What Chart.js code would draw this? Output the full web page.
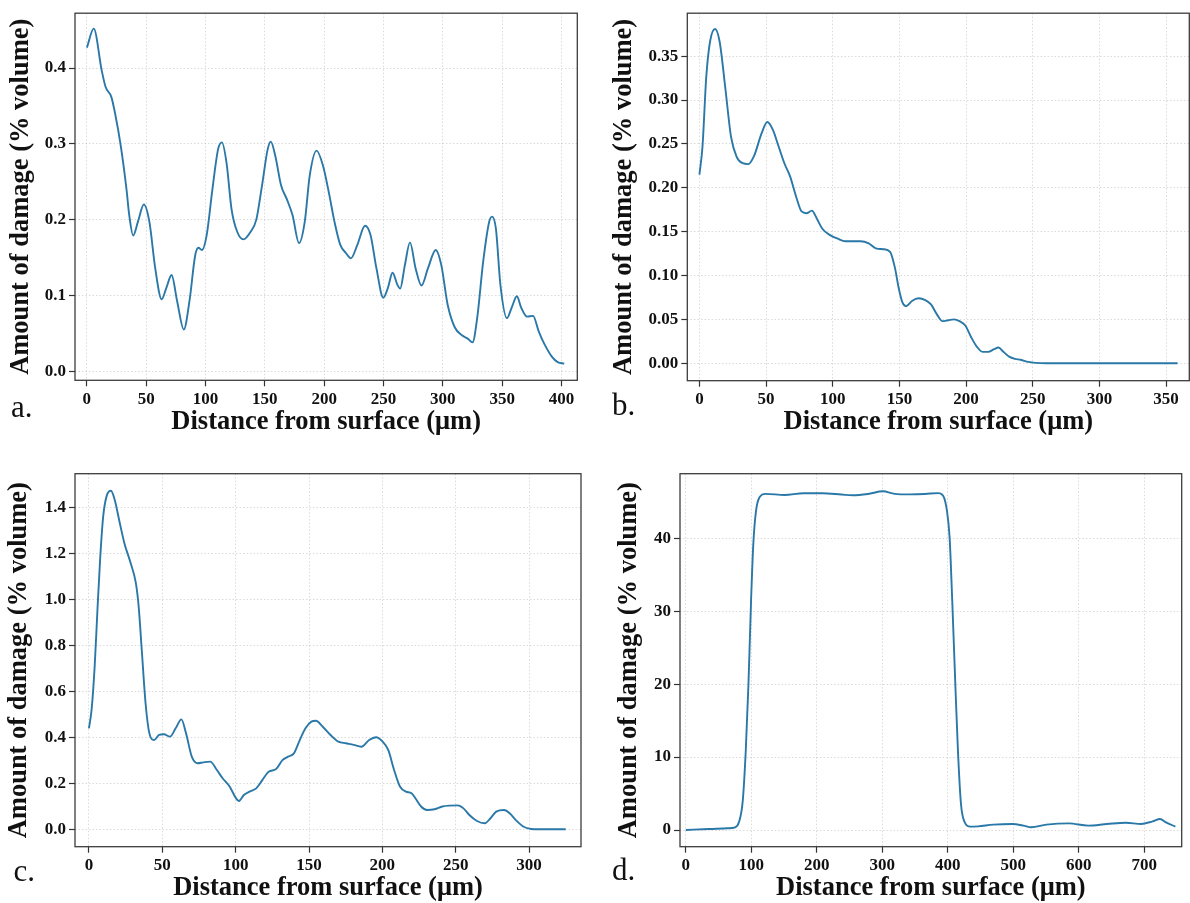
<!DOCTYPE html>
<html>
<head>
<meta charset="utf-8">
<script src="https://cdn.jsdelivr.net/npm/chart.js@4.4.1/dist/chart.umd.min.js"></script>
<style>
  body { margin: 0; background: #fff; }
  #fig { position: relative; width: 1190px; height: 903px; }
  .panel { position: absolute; }
</style>
</head>
<body>
<div id="fig">
  <div class="panel" style="left:0;top:0"><canvas id="chartA" width="595" height="450"></canvas></div>
  <div class="panel" style="left:595px;top:0"><canvas id="chartB" width="595" height="450"></canvas></div>
  <div class="panel" style="left:0;top:450px"><canvas id="chartC" width="595" height="453"></canvas></div>
  <div class="panel" style="left:595px;top:450px"><canvas id="chartD" width="595" height="453"></canvas></div>
</div>
<script>
/* ============================ Data ============================ */
const distA = [0, 5.8, 12.5, 15.8, 20.6, 23.8, 28.6, 33.4, 35.7, 39, 43, 48, 52.7, 57.6, 63, 67, 71.4, 76, 81.7, 86.5,
  91.3, 94, 97, 101, 105.8, 110.6, 113.8, 117.7, 121.9, 126.7, 132, 138, 142.8, 147.6, 152.4, 155, 158.8, 163.7, 168.5, 173.3,
  178.8, 183.6, 187.8, 193.6, 199, 203.9, 208.7, 213.5, 218.3, 222.5, 228, 234.4, 239, 244, 249.8, 253.7, 257.6, 261.7, 264, 268,
  272.3, 277, 282, 287.5, 294, 298.7, 304, 310, 316.4, 321, 325, 329, 334, 339, 341.5, 344.7, 348.5, 354, 358, 362.4,
  366, 371, 376, 380.7, 385.5, 392, 396.8, 402.3];
const damageA = [0.427, 0.452, 0.397, 0.375, 0.362, 0.34, 0.297, 0.24, 0.206, 0.179, 0.197, 0.22, 0.197, 0.136, 0.095, 0.11, 0.127, 0.093, 0.055, 0.093,
  0.153, 0.163, 0.16, 0.18, 0.24, 0.293, 0.302, 0.275, 0.214, 0.184, 0.174, 0.184, 0.2, 0.245, 0.293, 0.303, 0.284, 0.245, 0.227, 0.206,
  0.169, 0.197, 0.258, 0.291, 0.271, 0.236, 0.197, 0.167, 0.156, 0.149, 0.167, 0.192, 0.18, 0.136, 0.097, 0.11, 0.13, 0.114, 0.109, 0.14,
  0.17, 0.136, 0.113, 0.136, 0.16, 0.14, 0.088, 0.058, 0.047, 0.043, 0.038, 0.071, 0.145, 0.197, 0.204, 0.188, 0.114, 0.07, 0.084, 0.099,
  0.084, 0.072, 0.073, 0.053, 0.036, 0.019, 0.012, 0.01];

const distB = [0, 2.3, 5.1, 8, 11.7, 15.1, 19.4, 23.7, 28, 32.3, 36.6, 40.9, 46.6, 50.9, 55.1, 59.4, 63.7, 68, 72.3, 76.6,
  80.3, 84.3, 88, 92.3, 98, 103.7, 109.4, 115, 120.9, 126.6, 132.3, 138, 143, 146.6, 149.4, 152.3, 155, 159.4, 164.3, 169.4,
  173.7, 178, 182.3, 186.6, 190.9, 195, 199.4, 203.7, 208, 212.3, 216.6, 220.9, 224.3, 228, 232.3, 236.6, 240.9, 246.6, 252.3, 260,
  280, 300, 320, 340, 358.6];
const damageB = [0.215, 0.247, 0.326, 0.367, 0.381, 0.367, 0.314, 0.258, 0.235, 0.228, 0.227, 0.236, 0.262, 0.275, 0.266, 0.247, 0.228, 0.213, 0.191, 0.173,
  0.171, 0.174, 0.165, 0.153, 0.146, 0.142, 0.139, 0.139, 0.139, 0.137, 0.131, 0.13, 0.127, 0.109, 0.086, 0.069, 0.065, 0.071, 0.074, 0.072,
  0.067, 0.056, 0.048, 0.049, 0.05, 0.048, 0.043, 0.03, 0.019, 0.013, 0.013, 0.016, 0.018, 0.013, 0.0075, 0.005, 0.004, 0.0015, 0.0004, 0,
  0, 0, 0, 0, 0];

const distC = [0, 1.8, 3.9, 5.8, 7.6, 9.7, 12.3, 15, 17.6, 20.8, 24.2, 28.1, 32, 33.9, 36, 38.6, 41.2, 44.4, 47.8, 51.2,
  55.2, 59.1, 63, 66.2, 70.1, 74.1, 78, 82.7, 87.2, 91.1, 95.9, 99.6, 102.2, 105.6, 109.5, 114, 118.2, 122.7, 127.4, 131.9,
  135.8, 139.7, 143.7, 147.6, 151.6, 154.7, 159.4, 164.7, 170, 175.2, 180.5, 185.7, 191, 195.7, 200.2, 204, 208, 212, 216, 219.9,
  222.5, 226.4, 230.4, 235.6, 240.9, 246.1, 251.4, 255.3, 259.3, 264.5, 269.8, 273.7, 277.6, 282.9, 286.8, 290.8, 296, 301.3, 306.5, 315,
  325];
const damageC = [0.439, 0.519, 0.707, 0.954, 1.171, 1.359, 1.454, 1.472, 1.432, 1.338, 1.243, 1.164, 1.07, 0.968, 0.78, 0.548, 0.417, 0.388, 0.41, 0.413,
  0.403, 0.439, 0.478, 0.417, 0.316, 0.287, 0.291, 0.294, 0.258, 0.222, 0.186, 0.142, 0.123, 0.149, 0.164, 0.178, 0.214, 0.251, 0.261, 0.301,
  0.316, 0.33, 0.388, 0.439, 0.468, 0.472, 0.446, 0.41, 0.381, 0.374, 0.367, 0.359, 0.388, 0.4, 0.381, 0.345, 0.258, 0.186, 0.164, 0.157,
  0.135, 0.099, 0.084, 0.087, 0.099, 0.103, 0.104, 0.091, 0.062, 0.036, 0.026, 0.048, 0.077, 0.084, 0.07, 0.041, 0.012, 0.0015, 0, 0,
  0];

const distD = [0, 34.8, 63.7, 75.3, 81, 86.9, 91.5, 95.6, 99.6, 103, 107.2, 113, 121.7, 150.6, 179.6, 208.6, 237.5, 255, 278, 301,
  318.7, 341.8, 365, 385.3, 392.8, 398.6, 402.7, 406.7, 411.4, 415.4, 420, 425.8, 434.5, 446, 469.3, 498.3, 515.6, 527, 550.4, 585,
  614, 643, 672, 695, 712.6, 724, 733, 747.4];
const damageD = [0, 0.14, 0.23, 0.37, 1.05, 4.0, 10.9, 20, 31.5, 39.2, 43.8, 45.7, 46.1, 45.94, 46.17, 46.17, 46.0, 45.9, 46.08, 46.45,
  46.1, 46.03, 46.08, 46.2, 45.85, 43.8, 40.1, 31.45, 20, 10.9, 3.6, 1.05, 0.46, 0.5, 0.73, 0.82, 0.6, 0.37, 0.73, 0.91,
  0.6, 0.82, 1.0, 0.82, 1.19, 1.5, 1.05, 0.46];

const panelLetters = ['a.', 'b.', 'c.', 'd.'];
const xTitle = 'Distance from surface (μm)';
const yTitle = 'Amount of damage (% volume)';

/* ============================ Styling ============================ */
const FONT = "'Liberation Serif', 'Times New Roman', serif";
const LINE_COLOR = '#2a78a8';
Chart.defaults.font.family = FONT;
Chart.defaults.color = '#111';

const tickFont = { family: FONT, size: 17, weight: 'bold' };
const titleFont = { family: FONT, size: 26.5, weight: 'bold', lineHeight: 1 };
const gridOpts = { color: 'rgba(150,150,150,0.45)', lineWidth: 0.8, tickLength: 6, tickColor: '#333', tickWidth: 1.2 };

// matplotlib style frame around the plot area
const framePlugin = {
    id: 'frame',
    afterDraw(chart) {
        const { ctx, chartArea: a } = chart;
        ctx.save();
        ctx.strokeStyle = '#3c3c3c';
        ctx.lineWidth = 1.3;
        ctx.strokeRect(a.left, a.top, a.right - a.left, a.bottom - a.top);
        ctx.restore();
    }
};

// "a.", "b." ... panel letters
const letterPlugin = {
    id: 'panelLetter',
    afterDraw(chart, args, opts) {
        const ctx = chart.ctx;
        ctx.save();
        ctx.font = '31px ' + FONT;
        ctx.fillStyle = '#111';
        ctx.textBaseline = 'alphabetic';
        ctx.fillText(opts.text, opts.x, opts.y);
        ctx.restore();
    }
};

function makeChart(id, dist, damage, cfg) {
    const points = dist.map((x, i) => ({ x: x, y: damage[i] }));
    return new Chart(document.getElementById(id), {
        type: 'line',
        data: {
            datasets: [{
                data: points,
                borderColor: LINE_COLOR,
                borderWidth: 1.9,
                pointRadius: 0,
                fill: false,
                cubicInterpolationMode: 'monotone'
            }]
        },
        options: {
            responsive: false,
            animation: false,
            events: [],
            layout: { padding: cfg.padding },
            plugins: {
                legend: { display: false },
                tooltip: { enabled: false },
                panelLetter: cfg.letter
            },
            scales: {
                x: {
                    type: 'linear',
                    min: cfg.xMin, max: cfg.xMax,
                    ticks: { stepSize: cfg.xStep, includeBounds: false, maxRotation: 0, autoSkip: false, padding: 3, font: tickFont, color: '#111' },
                    grid: gridOpts,
                    border: { display: false, dash: [1.5, 2] },
                    title: { display: true, text: xTitle, font: titleFont, color: '#111', padding: { top: 0, bottom: cfg.xTitlePad } },
                    afterFit: (s) => { s.height = cfg.xH; }
                },
                y: {
                    min: cfg.yMin, max: cfg.yMax,
                    ticks: { stepSize: cfg.yStep, includeBounds: false, padding: 3, font: tickFont, color: '#111',
                             callback: (v) => v.toFixed(cfg.yDec) },
                    grid: gridOpts,
                    border: { display: false, dash: [1.5, 2] },
                    title: { display: true, text: yTitle, font: titleFont, color: '#111', padding: { top: cfg.yTitlePad, bottom: 0 } },
                    afterFit: (s) => { s.width = cfg.yW; }
                }
            }
        },
        plugins: [framePlugin, letterPlugin]
    });
}

makeChart('chartA', distA, damageA, {
    padding: { left: 0, top: 7.3, right: 17.7, bottom: 9.7 },
    xMin: -10, xMax: 413.3, xStep: 50,
    yMin: -0.012, yMax: 0.4724, yStep: 0.1, yDec: 1,
    yW: 75, xH: 60, yTitlePad: 7.7, xTitlePad: 5,
    letter: { text: panelLetters[0], x: 11, y: 417 }
});

makeChart('chartB', distB, damageB, {
    padding: { left: 0, top: 7.3, right: 0.7, bottom: 9.3 },
    xMin: -9.1, xMax: 367.4, xStep: 50,
    yMin: -0.0199, yMax: 0.399, yStep: 0.05, yDec: 2,
    yW: 92.3, xH: 60, yTitlePad: 16.4, xTitlePad: 5.4,
    letter: { text: panelLetters[1], x: 17, y: 415 }
});

makeChart('chartC', distC, damageC, {
    padding: { left: 0, top: 23.7, right: 14, bottom: 0 },
    xMin: -9.5, xMax: 335.4, xStep: 50,
    yMin: -0.0757, yMax: 1.546, yStep: 0.2, yDec: 1,
    yW: 75, xH: 56.3, yTitlePad: 6.2, xTitlePad: 1.7,
    letter: { text: panelLetters[2], x: 13.5, y: 431 }
});

makeChart('chartD', distD, damageD, {
    padding: { left: 0, top: 23.7, right: 8.3, bottom: 0 },
    xMin: -8.9, xMax: 757, xStep: 100,
    yMin: -2.29, yMax: 48.86, yStep: 10, yDec: 0,
    yW: 85, xH: 56.3, yTitlePad: 21.2, xTitlePad: 1.7,
    letter: { text: panelLetters[3], x: 17, y: 430 }
});
</script>
</body>
</html>
